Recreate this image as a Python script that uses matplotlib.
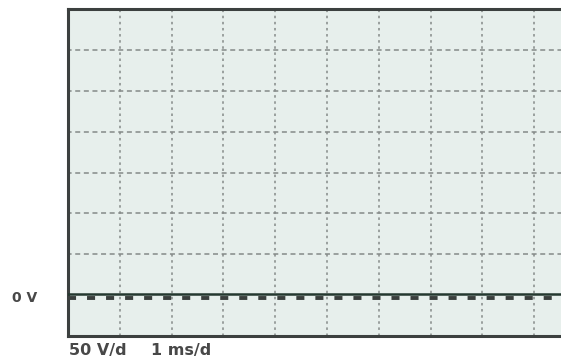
import matplotlib
matplotlib.use("Agg")
import matplotlib.pyplot as plt
import matplotlib.transforms as mtransforms

plt.rcParams["lines.scale_dashes"] = False

# Scope settings
volts_per_div = 50
ms_per_div = 1
n_hdiv = 10
n_vdiv = 8
zero_div_from_bottom = 1

# Captured trace (time in ms, voltage in V)
trace_time = [0, 10]
trace_volts = [1.5, 1.5]

# Ground reference marker level (V)
ground_level = 0

scale_labels = ["50 V/d", "1 ms/d"]
zero_label = "0 V"

W, H = 561, 360
fig = plt.figure(figsize=(W / 100, H / 100), dpi=100)
fig.patch.set_facecolor("white")

left, right, top, bottom = 68, 586, 9, 336
ax = fig.add_axes([left / W, (H - bottom) / H, (right - left) / W, (bottom - top) / H])
ax.set_facecolor("#e7efec")

ymin = -zero_div_from_bottom * volts_per_div
ymax = ymin + n_vdiv * volts_per_div
ax.set_xlim(0, n_hdiv * ms_per_div)
ax.set_ylim(ymin, ymax)

# Graticule
grid_color = "#858a88"
for i in range(1, n_hdiv):
    ax.axvline(i * ms_per_div, color=grid_color, lw=1.1, ls=(0, (1.8, 2.6)), zorder=1)
for j in range(1, n_vdiv):
    yv = ymin + j * volts_per_div
    if yv == ground_level:
        continue
    ax.axhline(yv, color=grid_color, lw=1.1, ls=(1, (3.6, 2.6)), zorder=1)

# Ground marker, drawn a little below the trace
off = mtransforms.offset_copy(ax.transData, fig=fig, x=0, y=-2.6, units="dots")
ax.plot([0, n_hdiv * ms_per_div], [ground_level, ground_level], color="#3a3f3d",
        lw=2.8, ls=(0, (5.8, 7.9)), transform=off, zorder=2, solid_capstyle="butt")

# Trace
ax.plot(trace_time, trace_volts, color="#24382f", lw=1.8, zorder=3)

for s in ax.spines.values():
    s.set_color("#3c403f")
    s.set_linewidth(2.2)
ax.set_xticks([])
ax.set_yticks([])

txt_kw = dict(family=["DejaVu Sans"], color="#484848", fontweight="bold")
fig.text(12 / W, 1 - 298 / H, zero_label, va="center", ha="left", fontsize=10, **txt_kw)
fig.text(69 / W, 1 - 350 / H, scale_labels[0], va="center", ha="left", fontsize=11.5, **txt_kw)
fig.text(151 / W, 1 - 350 / H, scale_labels[1], va="center", ha="left", fontsize=11.5, **txt_kw)

fig.savefig("out.png", dpi=100, facecolor="white")
